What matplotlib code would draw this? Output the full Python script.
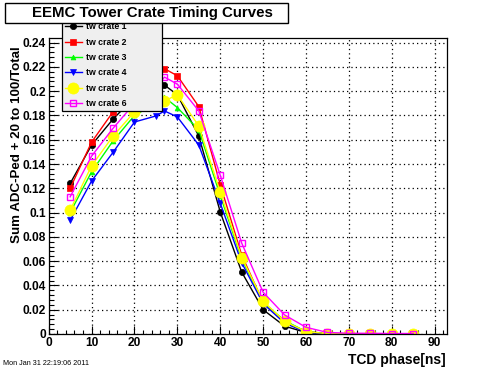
import matplotlib
matplotlib.use("Agg")
import matplotlib.pyplot as plt
from matplotlib.patches import Rectangle
from matplotlib.ticker import MultipleLocator, FuncFormatter

plt.rcParams['font.family'] = ['Liberation Sans', 'DejaVu Sans']
plt.rcParams['font.weight'] = 'bold'

phase = [5, 10, 15, 20, 25, 27, 30, 35, 40, 45, 50, 55, 60, 65, 70, 75, 80, 85]

crate1 = [0.124, 0.1556, 0.177, 0.195, 0.203, 0.205, 0.197, 0.163, 0.1005, 0.051,
          0.020, 0.0065, 0.0012, 0.0003, 0.0002, 0.0001, 0.0001, 0.0001]
crate2 = [0.120, 0.158, 0.183, 0.205, 0.214, 0.2185, 0.2127, 0.1873, 0.123, 0.065,
          0.026, 0.010, 0.002, 0.0004, 0.0002, 0.0002, 0.0002, 0.0002]
crate3 = [0.100, 0.1336, 0.159, 0.180, 0.190, 0.195, 0.1865, 0.168, 0.114, 0.062,
          0.026, 0.011, 0.002, 0.0003, 0.0002, 0.0002, 0.0002, 0.0002]
crate4 = [0.0936, 0.126, 0.1496, 0.1746, 0.1796, 0.1837, 0.1788, 0.1556, 0.1077, 0.0587,
          0.025, 0.009, 0.0015, 0.0003, 0.0002, 0.0002, 0.0002, 0.0002]
crate5 = [0.102, 0.1385, 0.163, 0.183, 0.190, 0.192, 0.197, 0.1713, 0.117, 0.063,
          0.027, 0.0104, 0.002, 0.0003, 0.0002, 0.0002, 0.0002, 0.0002]
crate6 = [0.113, 0.1465, 0.1694, 0.190, 0.203, 0.2116, 0.2058, 0.1837, 0.1308, 0.0749,
          0.0344, 0.0157, 0.0055, 0.0013, 0.0006, 0.0006, 0.0004, 0.0004]

labels = ["tw crate 1", "tw crate 2", "tw crate 3", "tw crate 4", "tw crate 5", "tw crate 6"]
series = [crate1, crate2, crate3, crate4, crate5, crate6]
colors = ["#000000", "#ff0000", "#00ff00", "#0000ff", "#ffff00", "#ff00ff"]
markers = ["o", "s", "^", "v", "o", "s"]
msizes = [4.5, 4.5, 3.5, 4.5, 8.0, 5.0]
filled = [True, True, True, True, True, False]

W, H = 496, 372
fig = plt.figure(figsize=(W / 100, H / 100), dpi=100)
ax = fig.add_axes([48.7 / W, 1 - 334 / H, 398 / W, 296 / H])

for ys, lab, c, m, ms, f in zip(series, labels, colors, markers, msizes, filled):
    ax.plot(phase, ys, color=c, lw=1.0, marker=m, markersize=ms,
            markerfacecolor=(c if f else 'none'), markeredgecolor=c,
            markeredgewidth=(0.5 if f else 1.0), label=lab)

ax.set_xlim(0, 92.8)
ax.set_ylim(0, 0.2438)
ax.xaxis.set_major_locator(MultipleLocator(10))
ax.xaxis.set_minor_locator(MultipleLocator(2))
ax.yaxis.set_major_locator(MultipleLocator(0.02))
ax.yaxis.set_minor_locator(MultipleLocator(0.004))
ax.yaxis.set_major_formatter(FuncFormatter(lambda v, p: "%g" % round(v, 3)))
ax.tick_params(which='both', direction='in', top=False, right=False,
               labelsize=8.6, width=0.8)
ax.tick_params(axis='y', which='major', length=6.5, pad=2)
ax.tick_params(axis='y', which='minor', length=3.3)
ax.tick_params(axis='x', which='major', length=6, pad=2)
ax.tick_params(axis='x', which='minor', length=3)
for lbl in ax.get_xticklabels() + ax.get_yticklabels():
    lbl.set_fontweight('bold')
ax.grid(True, which='major', color='black', linestyle=(0, (1, 2.5)), linewidth=0.9)
for s in ax.spines.values():
    s.set_linewidth(0.9)

leg = ax.legend(loc='upper left', bbox_to_anchor=(62 / W, 1 - 23.5 / H, 100 / W, 0.01),
                bbox_transform=fig.transFigure, mode='expand', borderaxespad=0,
                labelspacing=0.72, handlelength=2.0, handletextpad=0.4,
                borderpad=0.3, fancybox=False, framealpha=1, edgecolor='black',
                facecolor='#efefef', prop={'weight': 'bold', 'size': 6.3})
leg.get_frame().set_linewidth(0.9)

fig.add_artist(Rectangle((5 / W, 1 - 23 / H), 283 / W, 20 / H, transform=fig.transFigure,
                         facecolor='white', edgecolor='black', linewidth=1.0))
fig.text(152 / W, 1 - 13.3 / H, "EEMC Tower Crate Timing Curves", ha='center', va='center',
         fontsize=10.8, fontweight='bold')

fig.text(17.5 / W, 1 - 145 / H, "Sum ADC-Ped + 20 to 100/Total", rotation=90,
         ha='center', va='center', fontsize=9.6, fontweight='bold')
fig.text(446 / W, 1 - 360 / H, "TCD phase[ns]", ha='right', va='center',
         fontsize=10, fontweight='bold')
fig.text(3 / W, 1 - 363.5 / H, "Mon Jan 31 22:19:06 2011", ha='left', va='center',
         fontsize=5.2, fontweight='normal')

fig.savefig("out.png", dpi=100)
